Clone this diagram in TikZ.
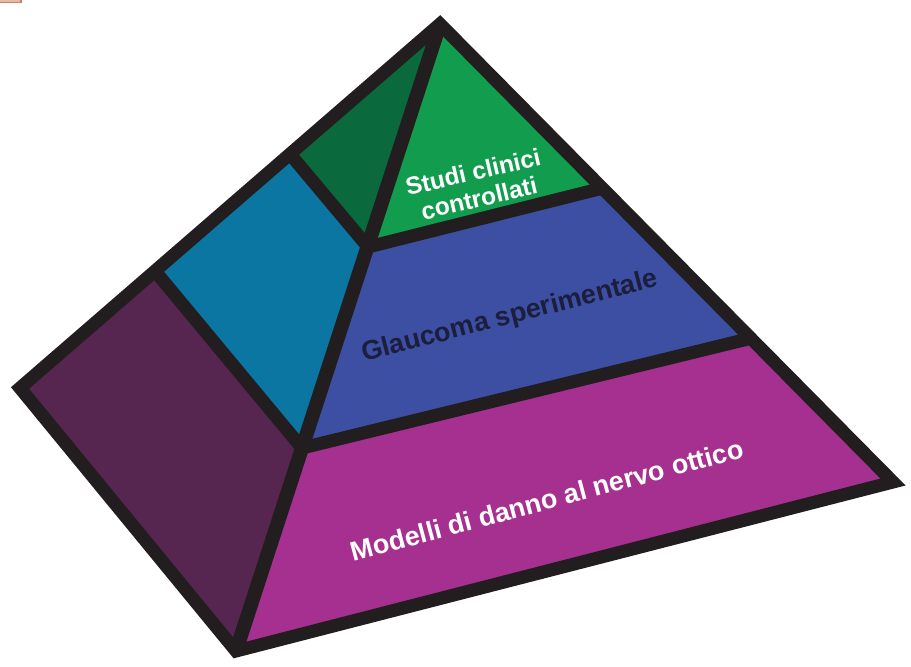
\documentclass[tikz,border=0pt]{standalone}
\usepackage{fontspec}
\setmainfont{Liberation Sans}
\usetikzlibrary{calc}
\definecolor{edgeblack}{RGB}{34,30,31}
\definecolor{dkgreen}{RGB}{10,106,62}
\definecolor{ltgreen}{RGB}{18,156,78}
\definecolor{tealblue}{RGB}{12,118,162}
\definecolor{midblue}{RGB}{60,79,163}
\definecolor{dkpurple}{RGB}{86,38,80}
\definecolor{magentab}{RGB}{166,48,143}
\definecolor{navytext}{RGB}{28,30,62}
\definecolor{tabframe}{RGB}{196,132,104}
\definecolor{tabfill}{RGB}{226,186,166}

\begin{document}
\begin{tikzpicture}[x=1pt, y=-1pt,
    edge/.style={draw=edgeblack, line width=13pt, line join=miter},
    tiertext/.style={font=\bfseries\fontsize{27}{30}\selectfont, align=center, inner sep=0pt},
    toptext/.style={font=\bfseries\fontsize{24.5}{27}\selectfont, align=center, inner sep=0pt}
  ]
    \useasboundingbox (0,0) rectangle (911,667);
    \draw[tabframe, fill=tabfill, line width=1.5pt] (-3,-3) rectangle (21,2.5);

    \coordinate (A)  at (440,24);
    \coordinate (L)  at (20,388);
    \coordinate (B)  at (236,651);
    \coordinate (R)  at (893,482);
    \coordinate (J1) at (368,247);
    \coordinate (J2) at (302,448);
    \coordinate (J3) at (603,188);
    \coordinate (J4) at (752,338);
    \coordinate (J5) at (290,154);
    \coordinate (J6) at (155,271);

    \fill[dkgreen]  (A) -- (J5) -- (J1) -- cycle;
    \fill[ltgreen]  (A) -- (J1) -- (J3) -- cycle;
    \fill[tealblue] (J5) -- (J6) -- (J2) -- (J1) -- cycle;
    \fill[midblue]  (J1) -- (J2) -- (J4) -- (J3) -- cycle;
    \fill[dkpurple] (J6) -- (L) -- (B) -- (J2) -- cycle;
    \fill[magentab] (J2) -- (B) -- (R) -- (J4) -- cycle;

    \draw[edge] (A) -- (L) -- (B) -- (R) -- cycle;
    \draw[edge, line width=14pt] (A) -- (B);
    \foreach \u/\v in {J5/J1, J1/J3, J6/J2, J2/J4}
      \draw[edge] (\u) -- (\v);

    \node[toptext, text=white, rotate=13] (studi) at (476,185) {Studi clinici\\controllati};
    \node[tiertext, text=navytext, rotate=14.5] (glaucoma) at (510,317) {Glaucoma sperimentale};
    \node[tiertext, text=white, rotate=15] (modelli) at (547,500) {Modelli di danno al nervo ottico};
  \end{tikzpicture}
\end{document}
